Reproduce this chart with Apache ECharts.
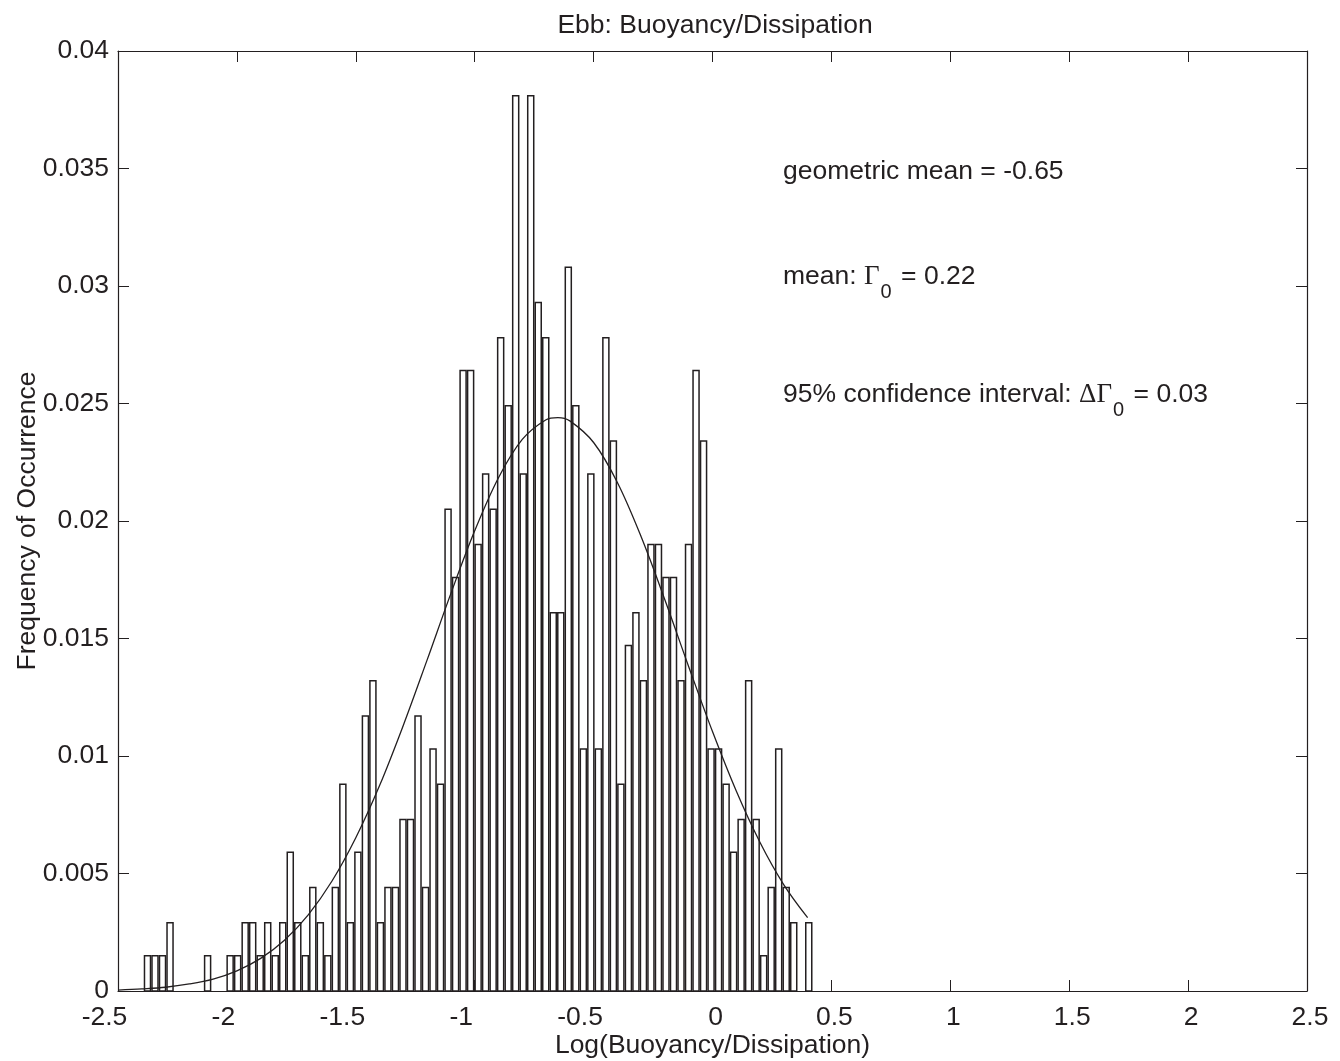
<!DOCTYPE html>
<html>
<head>
<meta charset="utf-8">
<script src="https://cdn.jsdelivr.net/npm/echarts@6/dist/echarts.min.js"></script>
<style>
  html, body { margin: 0; padding: 0; background: #fff; }
  #myChart { width: 1340px; height: 1061px; }
</style>
</head>
<body>
<div id="myChart"></div>
<script>
// histogram bins (log10 of buoyancy/dissipation), first bin centre and width
const binStart = -2.376;
const binWidth = 0.0316;
// frequency of occurrence per bin
const freq = [
  0.0015, 0.0015, 0.0015, 0.0029, 0, 0, 0, 0, 0.0015, 0,
  0, 0.0015, 0.0015, 0.0029, 0.0029, 0.0015, 0.0029, 0.0015, 0.0029, 0.0059,
  0.0029, 0.0015, 0.0044, 0.0029, 0.0015, 0.0044, 0.0088, 0.0029, 0.0059, 0.0117,
  0.0132, 0.0029, 0.0044, 0.0044, 0.0073, 0.0073, 0.0117, 0.0044, 0.0103, 0.0088,
  0.0205, 0.0176, 0.0264, 0.0264, 0.0190, 0.0220, 0.0205, 0.0278, 0.0249, 0.0381,
  0.0220, 0.0381, 0.0293, 0.0278, 0.0161, 0.0161, 0.0308, 0.0249, 0.0103, 0.0220,
  0.0103, 0.0278, 0.0234, 0.0088, 0.0147, 0.0161, 0.0132, 0.0190, 0.0190, 0.0176,
  0.0176, 0.0132, 0.0190, 0.0264, 0.0234, 0.0103, 0.0103, 0.0088, 0.0059, 0.0073,
  0.0132, 0.0073, 0.0015, 0.0044, 0.0103, 0.0044, 0.0029, 0, 0.0029
];
// fitted normal curve
const fitX = [-2.5, -2.4, -2.3, -2.2, -2.1, -2.0, -1.9, -1.8, -1.7, -1.6, -1.5, -1.4, -1.3, -1.2, -1.1,
  -1.0, -0.9, -0.8, -0.7, -0.65, -0.6, -0.5, -0.4, -0.3, -0.2, -0.1, 0.0, 0.1, 0.2, 0.3, 0.4];
const fitY = [0.00004, 0.00009, 0.00016, 0.0003, 0.00051, 0.00086, 0.00139, 0.00216, 0.00324, 0.00468,
  0.00652, 0.00874, 0.01131, 0.01409, 0.01692, 0.01958, 0.02184, 0.02347, 0.02431, 0.0244, 0.02426,
  0.02334, 0.02164, 0.01933, 0.01664, 0.0138, 0.01104, 0.00851, 0.00632, 0.00452, 0.00312];
const xTicks = { min: -2.5, max: 2.5, step: 0.5 };
const yTicks = { min: 0, max: 0.04, step: 0.005 };

const ink = '#231f20';
const fontSans = '"Liberation Sans", Arial, sans-serif';
const fontSerif = '"Liberation Serif", "Times New Roman", serif';
const fs = 26.5;

let barData = freq.map((f, i) => [binStart + i * binWidth, f]);
let fitData = fitX.map((x, i) => [x, fitY[i]]);

let axisCommon = {
  type: 'value',
  axisLine: { show: true, onZero: false, lineStyle: { color: ink, width: 1.2 } },
  axisTick: { show: true, inside: true, length: 11, lineStyle: { color: ink, width: 1 } },
  splitLine: { show: false },
};

let myChart = echarts.init(document.getElementById('myChart'));
myChart.setOption({
  animation: false,
  backgroundColor: '#fff',
  title: {
    text: 'Ebb: Buoyancy/Dissipation',
    left: 710, top: 7, textAlign: 'center',
    textStyle: { fontFamily: fontSans, fontSize: fs, fontWeight: 'normal', color: ink },
  },
  grid: { left: 118, right: 33, top: 51, bottom: 70, outerBoundsMode: 'none', containLabel: false },
  xAxis: [
    Object.assign({}, axisCommon, {
      min: xTicks.min, max: xTicks.max, interval: xTicks.step,
      position: 'bottom',
      name: 'Log(Buoyancy/Dissipation)', nameLocation: 'middle', nameGap: 41,
      nameMoveOverlap: false,
      nameTextStyle: { fontFamily: fontSans, fontSize: fs, color: ink },
      axisLabel: {
        margin: 13, color: ink, fontFamily: fontSans, fontSize: fs,
        formatter: v => (v < 0 ? '{n|' + v + '}' : '{p|' + v + '}'),
        rich: {
          n: { fontFamily: fontSans, fontSize: fs, color: ink, padding: [0, 27, 0, 0] },
          p: { fontFamily: fontSans, fontSize: fs, color: ink, padding: [0, 0, 0, 6] },
        },
      },
    }),
    Object.assign({}, axisCommon, {
      min: xTicks.min, max: xTicks.max, interval: xTicks.step,
      position: 'top', axisLabel: { show: false },
    }),
  ],
  yAxis: [
    Object.assign({}, axisCommon, {
      min: yTicks.min, max: yTicks.max, interval: yTicks.step,
      position: 'left',
      name: 'Frequency of Occurrence', nameLocation: 'middle', nameGap: 77,
      nameMoveOverlap: false,
      nameTextStyle: { fontFamily: fontSans, fontSize: fs, color: ink },
      axisLabel: { margin: 9, color: ink, fontFamily: fontSans, fontSize: fs },
    }),
    Object.assign({}, axisCommon, {
      min: yTicks.min, max: yTicks.max, interval: yTicks.step,
      position: 'right', axisLabel: { show: false },
    }),
  ],
  series: [
    {
      type: 'custom',
      xAxisIndex: 0, yAxisIndex: 0,
      data: barData,
      renderItem: function (params, api) {
        let x = api.value(0), y = api.value(1);
        if (!y) return null;
        let p0 = api.coord([x - binWidth * 0.4, y]);
        let p1 = api.coord([x + binWidth * 0.4, 0]);
        return {
          type: 'rect',
          shape: { x: p0[0], y: p0[1], width: p1[0] - p0[0], height: p1[1] - p0[1] },
          style: { fill: '#fff', stroke: ink, lineWidth: 1.5 },
        };
      },
      z: 2,
    },
    {
      type: 'line',
      xAxisIndex: 0, yAxisIndex: 0,
      data: fitData,
      smooth: 0.35,
      smoothConstraint: false,
      showSymbol: false,
      lineStyle: { color: ink, width: 1.3 },
      z: 3,
    },
  ],
  graphic: [
    {
      type: 'text', left: 783, top: 158,
      style: { text: 'geometric mean = -0.65', fontFamily: fontSans, fontSize: fs, fill: ink },
    },
    {
      type: 'text', left: 783, top: 263,
      style: {
        text: '{t|mean: }{g|Γ}{s|0}{t| = 0.22}',
        fill: ink,
        rich: {
          t: { fontFamily: fontSans, fontSize: fs, lineHeight: 30, verticalAlign: 'top', fill: ink },
          g: { fontFamily: fontSerif, fontSize: 27, lineHeight: 30, verticalAlign: 'top', fill: ink },
          s: { fontFamily: fontSans, fontSize: 20, lineHeight: 20, verticalAlign: 'top', padding: [19, 2, 0, 1], fill: ink },
        },
      },
    },
    {
      type: 'text', left: 783, top: 381,
      style: {
        text: '{t|95% confidence interval: }{g|ΔΓ}{s|0}{t| = 0.03}',
        fill: ink,
        rich: {
          t: { fontFamily: fontSans, fontSize: fs, lineHeight: 30, verticalAlign: 'top', fill: ink },
          g: { fontFamily: fontSerif, fontSize: 27, lineHeight: 30, verticalAlign: 'top', fill: ink },
          s: { fontFamily: fontSans, fontSize: 20, lineHeight: 20, verticalAlign: 'top', padding: [19, 2, 0, 1], fill: ink },
        },
      },
    },
  ],
});
</script>
</body>
</html>
